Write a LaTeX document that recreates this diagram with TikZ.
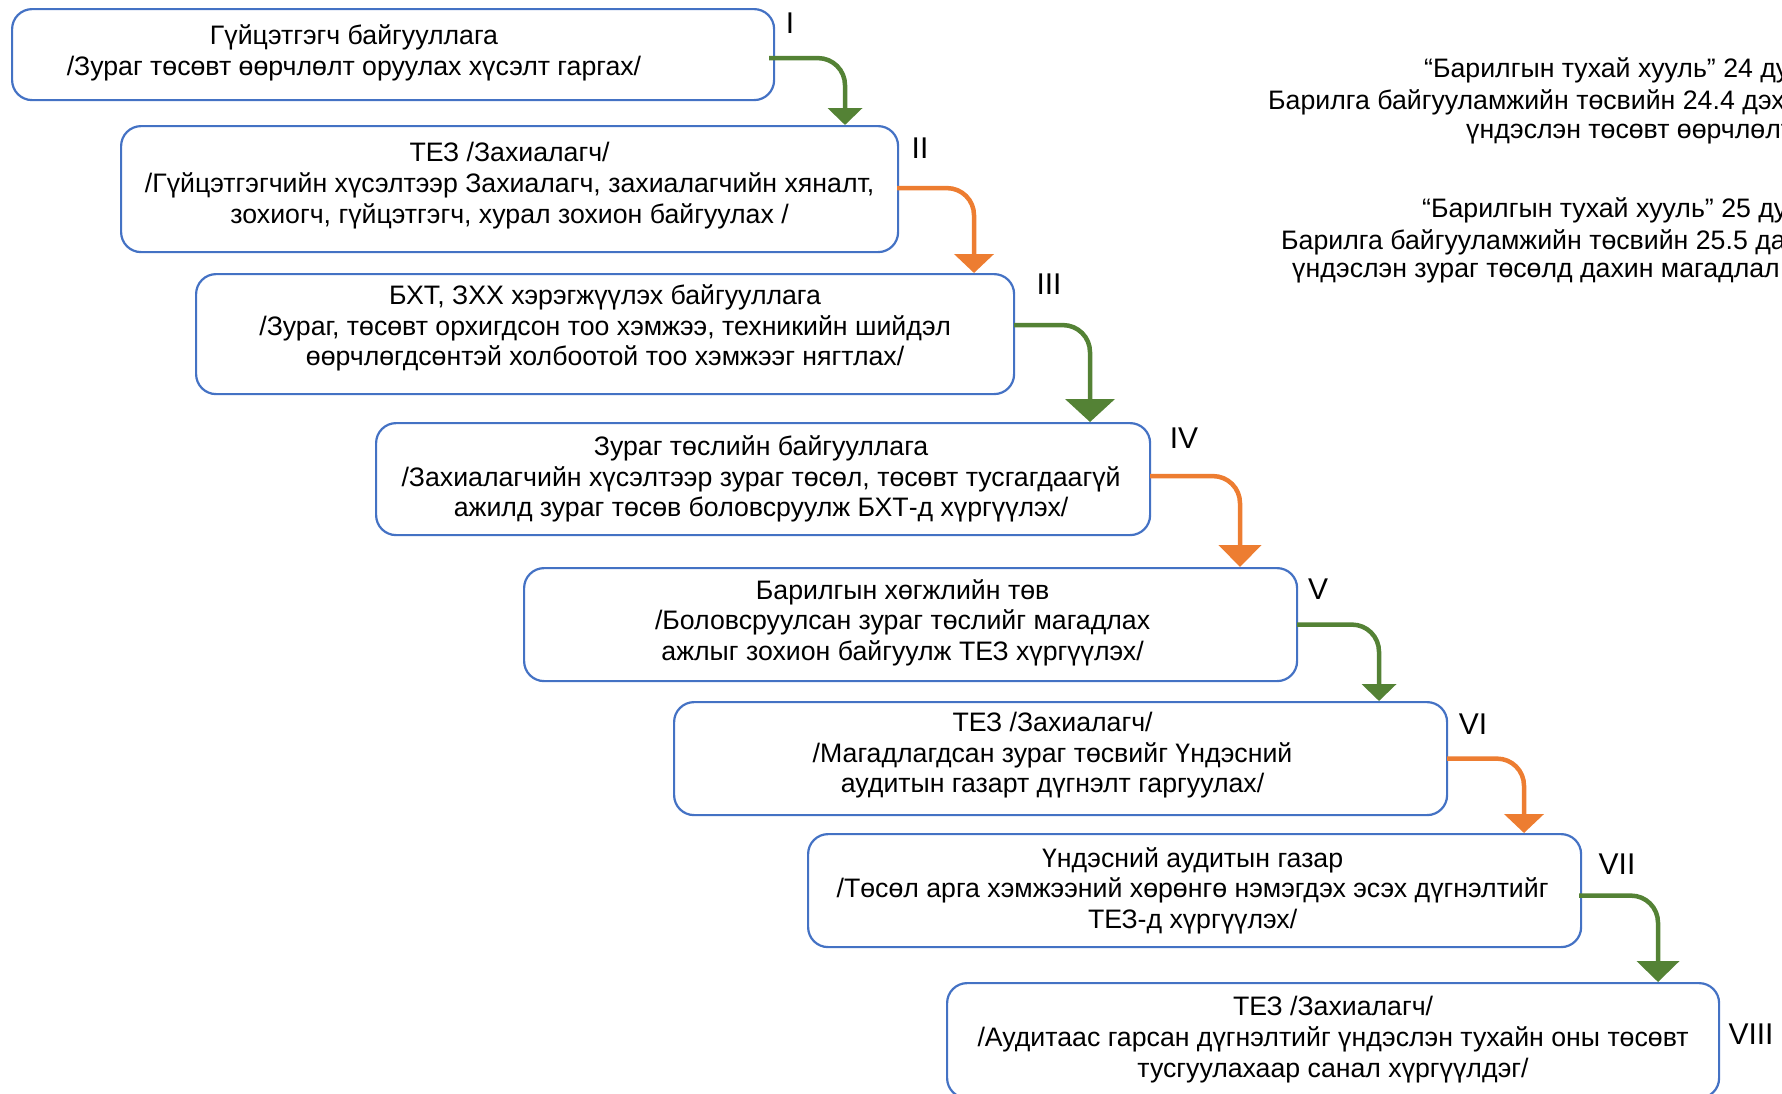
\documentclass[tikz,border=0pt]{standalone}
\usepackage{fontspec}
\setmainfont{Liberation Sans}
\usetikzlibrary{arrows.meta}
\definecolor{boxblue}{HTML}{4472C4}
\definecolor{arrgreen}{HTML}{548235}
\definecolor{arrorange}{HTML}{ED7D31}
\begin{document}
\begin{tikzpicture}[x=1pt,y=-1pt,
  box/.style={draw=boxblue, line width=2.2pt, rounded corners=20pt, anchor=north west, inner sep=0pt},
  txt/.style={align=center, inner sep=0pt, font=\fontsize{26.7}{30.7}\selectfont},
  side/.style={anchor=west, inner sep=0pt, font=\fontsize{26.7}{30.7}\selectfont},
  roman/.style={inner sep=0pt, font=\fontsize{30}{34}\selectfont},
  flow/.style={line width=4.5pt, rounded corners=27pt},
  gflow/.style={flow, draw=arrgreen, -{Triangle[width=34pt,length=17pt]}},
  oflow/.style={flow, draw=arrorange, -{Triangle[width=39pt,length=19pt]}},
]
\useasboundingbox (0,0) rectangle (1782,1093);
\clip (0,0) rectangle (1782,1093);

% boxes
\node[box, minimum width=762pt, minimum height=91pt] (b1) at (11,8) {};
\node[box, minimum width=777pt, minimum height=126pt] (b2) at (120,125) {};
\node[box, minimum width=818pt, minimum height=120pt] (b3) at (195,273) {};
\node[box, minimum width=774pt, minimum height=112pt] (b4) at (375,422) {};
\node[box, minimum width=773pt, minimum height=113pt] (b5) at (523,567) {};
\node[box, minimum width=773pt, minimum height=113pt] (b6) at (673,701) {};
\node[box, minimum width=773pt, minimum height=113pt] (b7) at (807,833) {};
\node[box, minimum width=772pt, minimum height=115pt] (b8) at (946,982) {};

% box texts
\node[txt] (b1t) at (354,53) {Гүйцэтгэгч байгууллага\\/Зураг төсөвт өөрчлөлт оруулах хүсэлт гаргах/};
\node[txt] (b2t) at ([yshift=3.5pt]b2.center) {ТЕЗ /Захиалагч/\\/Гүйцэтгэгчийн хүсэлтээр Захиалагч, захиалагчийн хяналт,\\зохиогч, гүйцэтгэгч, хурал зохион байгуулах /};
\node[txt] (b3t) at ([yshift=6pt]b3.center) {БХТ, ЗХХ хэрэгжүүлэх байгууллага\\/Зураг, төсөвт орхигдсон тоо хэмжээ, техникийн шийдэл\\өөрчлөгдсөнтэй холбоотой тоо хэмжээг нягтлах/};
\node[txt] (b4t) at ([xshift=-2pt]b4.center) {Зураг төслийн байгууллага\\/Захиалагчийн хүсэлтээр зураг төсөл, төсөвт тусгагдаагүй\\ажилд зураг төсөв боловсруулж БХТ-д хүргүүлэх/};
\node[txt] (b5t) at ([yshift=2pt,xshift=-8pt]b5.center) {Барилгын хөгжлийн төв\\/Боловсруулсан зураг төслийг магадлах\\ажлыг зохион байгуулж ТЕЗ хүргүүлэх/};
\node[txt] (b6t) at ([yshift=3.5pt,xshift=-8pt]b6.center) {ТЕЗ /Захиалагч/\\/Магадлагдсан зураг төсвийг Үндэсний\\аудитын газарт дүгнэлт гаргуулах/};
\node[txt] (b7t) at ([xshift=-2pt]b7.center) {Үндэсний аудитын газар\\/Төсөл арга хэмжээний хөрөнгө нэмэгдэх эсэх дүгнэлтийг\\ТЕЗ-д хүргүүлэх/};
\node[txt] (b8t) at ([yshift=1pt]b8.center) {ТЕЗ /Захиалагч/\\/Аудитаас гарсан дүгнэлтийг үндэслэн тухайн оны төсөвт\\тусгуулахаар санал хүргүүлдэг/};

% roman numerals
\node[roman] (r1) at (790,23) {I};
\node[roman] (r2) at (920,148) {II};
\node[roman] (r3) at (1049,284) {III};
\node[roman] (r4) at (1184,438) {IV};
\node[roman] (r5) at (1318,589) {V};
\node[roman] (r6) at (1473,724) {VI};
\node[roman] (r7) at (1617,864) {VII};
\node[roman] (r8) at (1751,1034) {VIII};

% turning columns
\coordinate (c1) at (845,0);
\coordinate (c2) at (974,0);
\coordinate (c3) at (1090,0);
\coordinate (c4) at (1240,0);
\coordinate (c5) at (1379,0);
\coordinate (c6) at (1524,0);
\coordinate (c7) at (1658,0);

% connectors
\draw[gflow] ([xshift=-6pt,yshift=-3.5pt]b1.east) -| (b2.north -| c1);
\draw[oflow] ([xshift=-2pt,yshift=1pt]b2.east) -| (b3.north -| c2);
\draw[gflow, -{Triangle[width=49pt,length=23pt]}] ([xshift=-1pt,yshift=9pt]b3.east) -| (b4.north -| c3);
\draw[oflow, -{Triangle[width=42pt,length=22pt]}] ([xshift=-1pt,yshift=3pt]b4.east) -| (b5.north -| c4);
\draw[gflow] ([xshift=-1pt]b5.east) -| (b6.north -| c5);
\draw[oflow] ([xshift=-1pt]b6.east) -| (b7.north -| c6);
\draw[gflow, -{Triangle[width=42pt,length=21pt]}] ([xshift=-3pt,yshift=-5pt]b7.east) -| (b8.north -| c7);

% side notes (clipped at the right edge)
\node[side] (n1) at (1424,70) {“Барилгын тухай хууль” 24 ду};
\node[side] (n2) at (1268,102) {Барилга байгууламжийн төсвийн 24.4 дэх};
\node[side] (n3) at (1466,134) {үндэслэн төсөвт өөрчлөлт};
\node[side] (n4) at (1422,210) {“Барилгын тухай хууль” 25 ду};
\node[side] (n5) at (1281,242) {Барилга байгууламжийн төсвийн 25.5 да};
\node[side] (n6) at (1292,273) {үндэслэн зураг төсөлд дахин магадлал};
\end{tikzpicture}
\end{document}
